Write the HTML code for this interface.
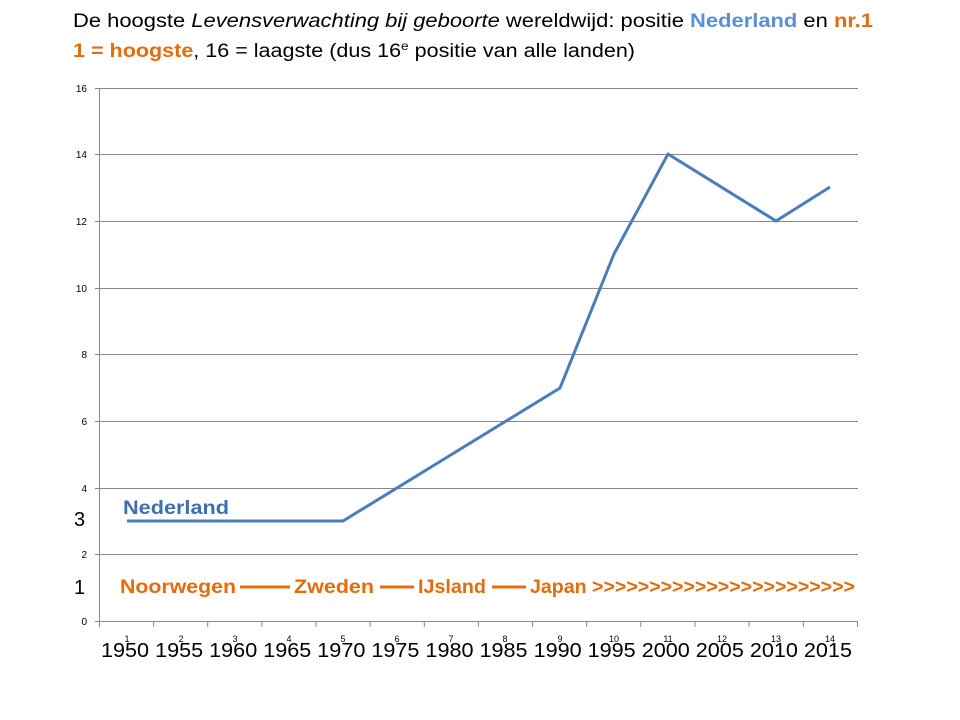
<!DOCTYPE html>
<html><head><meta charset="utf-8"><style>
body{margin:0;background:#fff;}
svg{display:block;font-family:"Liberation Sans",sans-serif;}
</style></head><body>
<svg width="960" height="720" viewBox="0 0 960 720">
<text x="73" y="27" font-size="19" fill="#000" textLength="800" lengthAdjust="spacingAndGlyphs">De hoogste <tspan font-style="italic">Levensverwachting  bij geboorte</tspan>  wereldwijd: positie <tspan fill="#5b8fd6" font-weight="bold">Nederland</tspan> en <tspan fill="#e46c0a" font-weight="bold">nr.1</tspan></text>
<text x="73" y="57" font-size="19" fill="#000" textLength="562" lengthAdjust="spacingAndGlyphs"><tspan fill="#e46c0a" font-weight="bold">1 = hoogste</tspan>, 16 = laagste (dus 16<tspan font-size="12" dy="-7">e</tspan><tspan dy="7"> positie van alle landen)</tspan></text>
<g stroke="#888" stroke-width="1">
<line x1="100" y1="88.5" x2="858" y2="88.5"/>
<line x1="100" y1="154.5" x2="858" y2="154.5"/>
<line x1="100" y1="221.5" x2="858" y2="221.5"/>
<line x1="100" y1="288.5" x2="858" y2="288.5"/>
<line x1="100" y1="354.5" x2="858" y2="354.5"/>
<line x1="100" y1="421.5" x2="858" y2="421.5"/>
<line x1="100" y1="488.5" x2="858" y2="488.5"/>
<line x1="100" y1="554.5" x2="858" y2="554.5"/>
<line x1="95" y1="621.5" x2="858" y2="621.5"/>
<line x1="99.5" y1="88" x2="99.5" y2="621"/>
<line x1="95" y1="88.5" x2="100" y2="88.5"/><line x1="95" y1="154.5" x2="100" y2="154.5"/><line x1="95" y1="221.5" x2="100" y2="221.5"/><line x1="95" y1="288.5" x2="100" y2="288.5"/><line x1="95" y1="354.5" x2="100" y2="354.5"/><line x1="95" y1="421.5" x2="100" y2="421.5"/><line x1="95" y1="488.5" x2="100" y2="488.5"/><line x1="95" y1="554.5" x2="100" y2="554.5"/>
<path d="M99.5 621v6M153.6 621v6M207.7 621v6M261.9 621v6M316 621v6M370.1 621v6M424.3 621v6M478.4 621v6M532.6 621v6M586.7 621v6M640.8 621v6M695 621v6M749.1 621v6M803.3 621v6M857.5 621v6"/>
</g>
<g font-size="10" fill="#000" text-anchor="end">
<text x="87" y="92">16</text><text x="87" y="158">14</text><text x="87" y="225">12</text><text x="87" y="292">10</text><text x="87" y="358">8</text><text x="87" y="425">6</text><text x="87" y="492">4</text><text x="87" y="558">2</text><text x="87" y="625">0</text>
</g>
<g font-size="9" fill="#000" text-anchor="middle">
<text x="127" y="642">1</text><text x="181" y="642">2</text><text x="235" y="642">3</text><text x="289" y="642">4</text><text x="343" y="642">5</text><text x="397" y="642">6</text><text x="451" y="642">7</text><text x="505" y="642">8</text><text x="560" y="642">9</text><text x="614" y="642">10</text><text x="668" y="642">11</text><text x="722" y="642">12</text><text x="776" y="642">13</text><text x="830" y="642">14</text>
</g>
<text x="101" y="657" font-size="20" fill="#000" textLength="751" lengthAdjust="spacingAndGlyphs">1950 1955 1960 1965 1970 1975 1980 1985 1990 1995 2000 2005 2010 2015</text>
<polyline points="127,521 343,521 560,388 614,254 668,154 776,221 830,187" fill="none" stroke="#4a7ebb" stroke-width="3" stroke-linejoin="round"/>
<text x="123" y="514" font-size="19" font-weight="bold" fill="#3e6eb0" textLength="106" lengthAdjust="spacingAndGlyphs">Nederland</text>
<text x="74" y="526" font-size="20" fill="#000">3</text>
<text x="74" y="594" font-size="20" fill="#000">1</text>
<g fill="#e46c0a" font-weight="bold" font-size="19">
<text x="120" y="593" textLength="116" lengthAdjust="spacingAndGlyphs">Noorwegen</text>
<text x="294" y="593" textLength="80" lengthAdjust="spacingAndGlyphs">Zweden</text>
<text x="418" y="593" textLength="68" lengthAdjust="spacingAndGlyphs">IJsland</text>
<text x="530" y="593" textLength="325" lengthAdjust="spacingAndGlyphs">Japan &gt;&gt;&gt;&gt;&gt;&gt;&gt;&gt;&gt;&gt;&gt;&gt;&gt;&gt;&gt;&gt;&gt;&gt;&gt;&gt;&gt;&gt;&gt;</text>
</g>
<g stroke="#e46c0a" stroke-width="3">
<line x1="240" y1="587" x2="290" y2="587"/>
<line x1="380" y1="587" x2="414" y2="587"/>
<line x1="492" y1="587" x2="526" y2="587"/>
</g>
</svg>
</body></html>
